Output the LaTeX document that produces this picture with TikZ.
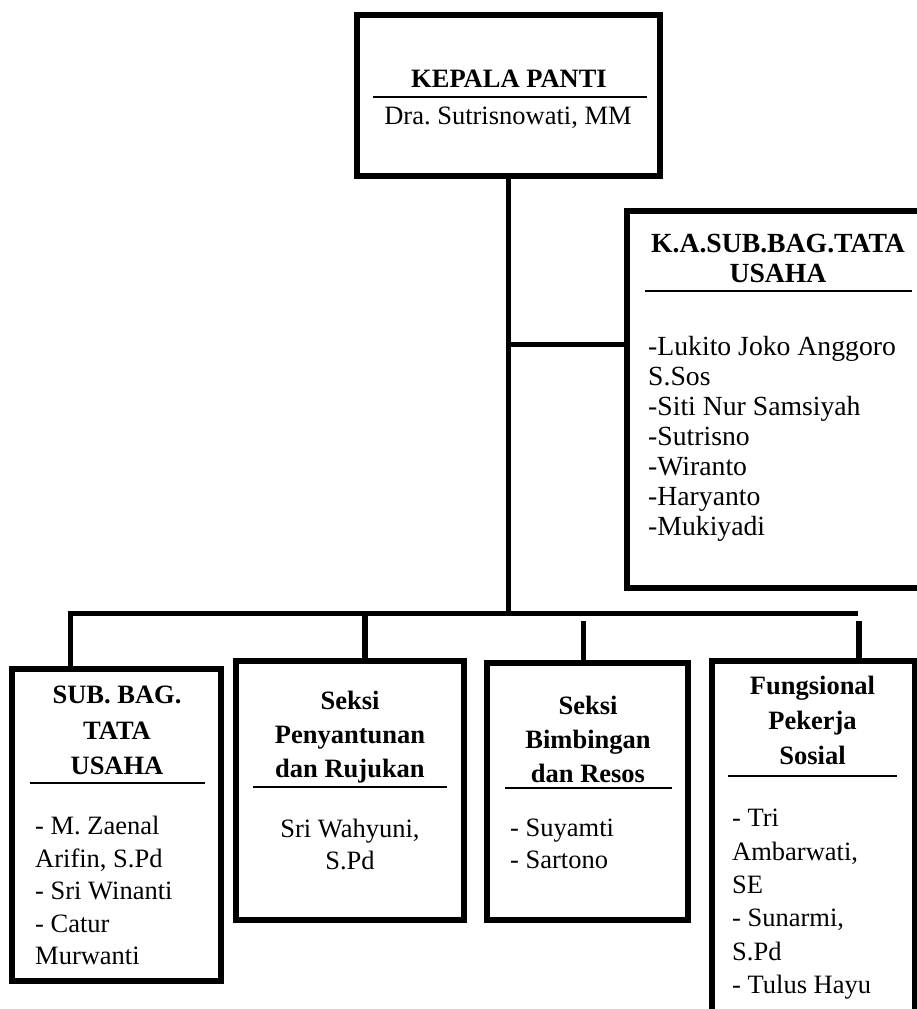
\documentclass[tikz,border=0pt]{standalone}
\usepackage{fontspec}
\setmainfont{Liberation Serif}
\frenchspacing
\begin{document}
\begin{tikzpicture}
  [x=1pt,y=-1pt,
   box/.style={draw=black,line width=6pt,rectangle,inner sep=0pt},
   link/.style={line width=5.5pt},
   hrule/.style={line width=1.3pt},
   headtext/.style={font=\bfseries\fontsize{26.5}{#1}\selectfont,align=center,anchor=north,inner sep=0pt},
   nametext/.style={font=\fontsize{26.5}{#1}\selectfont,align=center,anchor=north,inner sep=0pt},
   listtext/.style={font=\fontsize{26.5}{#1}\selectfont,align=left,anchor=north west,inner sep=0pt},
   bighead/.style={headtext,font=\bfseries\fontsize{27.7}{30}\selectfont},
   biglist/.style={listtext,font=\fontsize{27.7}{30}\selectfont}]
  \useasboundingbox (0,0) rectangle (917,1009);
  \clip (0,0) rectangle (917,1009);

  % Kotak-kotak jabatan
  \node[box,minimum width=303pt,minimum height=161pt] (kepala) at (508.5,95.5) {};
  \node[box,minimum width=306.5pt,minimum height=377.5pt] (kasubbag) at (779.75,399.25) {};
  \node[box,minimum width=209.5pt,minimum height=312.5pt] (subbag) at (116.25,824.75) {};
  \node[box,minimum width=228pt,minimum height=259pt] (penyantunan) at (350,790.5) {};
  \node[box,minimum width=201pt,minimum height=257pt] (bimbingan) at (587.5,791.5) {};
  \node[box,minimum width=203pt,minimum height=379pt] (fungsional) at (813.5,850.5) {};

  % Garis penghubung
  \coordinate (cabang) at (508.5,344.5);
  \coordinate (busL) at (70.5,613.5);
  \coordinate (busR) at (858,613.5);
  \coordinate (turun2) at (365,613.5);
  \coordinate (turun3) at (583.5,621);
  \coordinate (turun4) at (859,621);
  \draw[link] (kepala.south) -- (kepala.south |- busL);
  \draw[link] (cabang) -- (cabang -| kasubbag.west);
  \draw[link] (subbag.north -| busL) -- (busL) -- (busR);
  \draw[link] (turun2) -- (turun2 |- penyantunan.north);
  \draw[link] (turun3) -- (turun3 |- bimbingan.north);
  \draw[link] (turun4) -- (turun4 |- fungsional.north);

  % Kepala panti
  \node[headtext=30] (kepalaT) at (509,70) {KEPALA PANTI};
  \draw[hrule] (373,97) -- (647,97);
  \node[nametext=30] (kepalaN) at (508,107) {Dra. Sutrisnowati, MM};

  % K.A. Sub. Bag. Tata Usaha
  \node[bighead] (kasubbagT) at (778,234) {K.A.SUB.BAG.TATA\\USAHA};
  \draw[hrule] (645,291) -- (912,291);
  \node[biglist] (kasubbagL) at (648,336) {-Lukito Joko Anggoro\\S.Sos\\-Siti Nur Samsiyah\\-Sutrisno\\-Wiranto\\-Haryanto\\-Mukiyadi};

  % Sub. Bag. Tata Usaha
  \node[headtext=35.5] (subbagT) at (117,686) {SUB. BAG.\\TATA\\USAHA};
  \draw[hrule] (30,783) -- (205,783);
  \node[listtext=32.5] (subbagL) at (35,816) {- M. Zaenal\\Arifin, S.Pd\\- Sri Winanti\\- Catur\\Murwanti};

  % Seksi Penyantunan dan Rujukan
  \node[headtext=34] (penyantunanT) at (350,691) {Seksi\\Penyantunan\\dan Rujukan};
  \draw[hrule] (253,787) -- (447,787);
  \node[nametext=32] (penyantunanN) at (350,819) {Sri Wahyuni,\\S.Pd};

  % Seksi Bimbingan dan Resos
  \node[headtext=34] (bimbinganT) at (588,696) {Seksi\\Bimbingan\\dan Resos};
  \draw[hrule] (505,788) -- (672,788);
  \node[listtext=32] (bimbinganL) at (510,819) {- Suyamti\\- Sartono};

  % Fungsional Pekerja Sosial
  \node[headtext=35] (fungsionalT) at (812.5,676) {Fungsional\\Pekerja\\Sosial};
  \draw[hrule] (728,776) -- (897,776);
  \node[listtext=33.4] (fungsionalL) at (732,809) {- Tri\\Ambarwati,\\SE\\- Sunarmi,\\S.Pd\\- Tulus Hayu};
\end{tikzpicture}
\end{document}
